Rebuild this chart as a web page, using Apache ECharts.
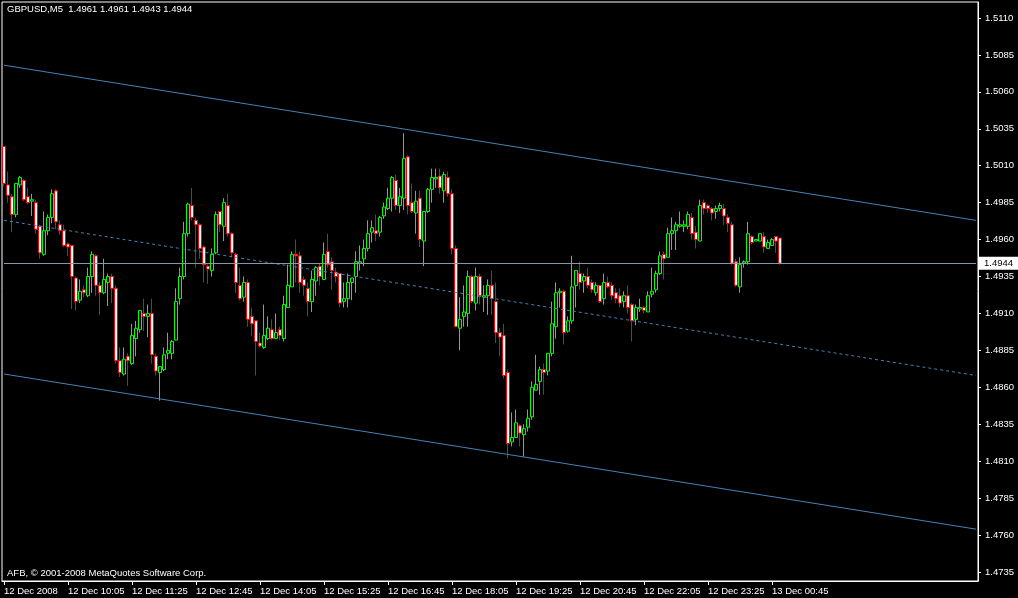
<!DOCTYPE html>
<html>
<head>
<meta charset="utf-8">
<script src="https://cdn.jsdelivr.net/npm/echarts@6/dist/echarts.min.js"></script>
<style>
html,body{margin:0;padding:0;background:#000;}
#chart{width:1018px;height:598px;}
</style>
</head>
<body>
<div id="chart"></div>
<script>
// ---------- data ----------
const titleText = 'GBPUSD,M5  1.4961 1.4961 1.4943 1.4944';
const footerText = 'AFB, \u00A9 2001-2008 MetaQuotes Software Corp.';
const startDay = 12;             // 12 Dec 2008
const startMinutes = 8 * 60 + 45; // first bar 08:45
const barMinutes = 5;
const totalSlots = 244;          // bars + empty right margin
const labelEvery = 16;
const xTickLabels = ['12 Dec 2008', '12 Dec 10:05', '12 Dec 11:25', '12 Dec 12:45', '12 Dec 14:05',
  '12 Dec 15:25', '12 Dec 16:45', '12 Dec 18:05', '12 Dec 19:25', '12 Dec 20:45', '12 Dec 22:05',
  '12 Dec 23:25', '13 Dec 00:45'];
const yTicks = [1.4735, 1.4760, 1.4785, 1.4810, 1.4835, 1.4860, 1.4885, 1.4910, 1.4935, 1.4960,
  1.4985, 1.5010, 1.5035, 1.5060, 1.5085, 1.5110];
const yMin = 1.47289;
const yMax = 1.51208;
const lastPrice = 1.4944;
const channelUpper = [1.5078, 1.4973];
const channelMiddle = [1.4973, 1.4868];
const channelLower = [1.4869, 1.4764];

// [open, close, low, high]
const bars = [
[1.5023,1.4998,1.4996,1.5023],[1.4997,1.4990,1.4985,1.5006],[1.4989,1.4977,1.4965,1.4991],[1.4977,1.4998,1.4975,1.4998],
[1.4997,1.5002,1.4995,1.5003],[1.5000,1.4987,1.4986,1.5001],[1.4989,1.4985,1.4984,1.4995],[1.4986,1.4987,1.4976,1.4991],
[1.4985,1.4967,1.4964,1.4987],[1.4969,1.4951,1.4947,1.4970],[1.4950,1.4966,1.4949,1.4979],[1.4966,1.4975,1.4963,1.4977],
[1.4975,1.4991,1.4971,1.4994],[1.4993,1.4972,1.4967,1.4994],[1.4970,1.4966,1.4963,1.4973],[1.4966,1.4956,1.4955,1.4970],
[1.4957,1.4955,1.4949,1.4958],[1.4956,1.4935,1.4913,1.4956],[1.4934,1.4918,1.4912,1.4935],[1.4919,1.4925,1.4917,1.4933],
[1.4926,1.4924,1.4921,1.4929],[1.4922,1.4935,1.4921,1.4941],[1.4935,1.4950,1.4924,1.4952],[1.4949,1.4929,1.4922,1.4950],
[1.4929,1.4924,1.4909,1.4931],[1.4924,1.4933,1.4923,1.4947],[1.4931,1.4935,1.4915,1.4937],[1.4935,1.4927,1.4917,1.4937],
[1.4927,1.4878,1.4876,1.4929],[1.4878,1.4870,1.4867,1.4887],[1.4869,1.4879,1.4868,1.4887],[1.4881,1.4878,1.4861,1.4883],
[1.4876,1.4895,1.4875,1.4903],[1.4893,1.4900,1.4881,1.4905],[1.4899,1.4912,1.4897,1.4912],[1.4910,1.4908,1.4898,1.4920],
[1.4908,1.4910,1.4894,1.4916],[1.4910,1.4882,1.4876,1.4920],[1.4881,1.4871,1.4868,1.4883],[1.4870,1.4874,1.4851,1.4874],
[1.4872,1.4882,1.4871,1.4887],[1.4883,1.4885,1.4879,1.4897],[1.4883,1.4891,1.4879,1.4892],[1.4892,1.4918,1.4892,1.4927],
[1.4920,1.4935,1.4916,1.4941],[1.4935,1.4964,1.4933,1.4972],[1.4964,1.4984,1.4962,1.4985],[1.4983,1.4975,1.4973,1.4995],
[1.4973,1.4970,1.4941,1.4975],[1.4970,1.4954,1.4947,1.4971],[1.4955,1.4943,1.4931,1.4956],[1.4942,1.4940,1.4930,1.4943],
[1.4939,1.4950,1.4935,1.4954],[1.4951,1.4977,1.4950,1.4979],[1.4979,1.4970,1.4965,1.4979],[1.4969,1.4985,1.4959,1.4988],
[1.4983,1.4964,1.4962,1.4991],[1.4964,1.4951,1.4948,1.4965],[1.4950,1.4931,1.4924,1.4951],[1.4929,1.4920,1.4919,1.4941],
[1.4921,1.4931,1.4918,1.4935],[1.4931,1.4906,1.4901,1.4933],[1.4908,1.4903,1.4895,1.4914],[1.4905,1.4891,1.4868,1.4905],
[1.4890,1.4888,1.4887,1.4897],[1.4887,1.4895,1.4886,1.4916],[1.4893,1.4900,1.4892,1.4908],[1.4899,1.4893,1.4892,1.4906],
[1.4893,1.4897,1.4893,1.4910],[1.4899,1.4895,1.4892,1.4901],[1.4893,1.4916,1.4891,1.4922],[1.4914,1.4929,1.4914,1.4943],
[1.4928,1.4950,1.4928,1.4952],[1.4950,1.4949,1.4931,1.4960],[1.4949,1.4931,1.4924,1.4952],[1.4933,1.4929,1.4922,1.4935],
[1.4927,1.4918,1.4908,1.4931],[1.4918,1.4933,1.4911,1.4939],[1.4932,1.4941,1.4922,1.4942],[1.4942,1.4935,1.4929,1.4944],
[1.4933,1.4950,1.4933,1.4958],[1.4952,1.4943,1.4941,1.4964],[1.4945,1.4939,1.4926,1.4948],[1.4938,1.4935,1.4931,1.4941],
[1.4937,1.4917,1.4914,1.4937],[1.4918,1.4920,1.4914,1.4931],[1.4920,1.4931,1.4914,1.4937],[1.4931,1.4934,1.4919,1.4934],
[1.4935,1.4945,1.4924,1.4952],[1.4944,1.4945,1.4939,1.4956],[1.4947,1.4954,1.4942,1.4960],[1.4954,1.4964,1.4952,1.4973],
[1.4965,1.4968,1.4958,1.4973],[1.4966,1.4964,1.4959,1.4977],[1.4965,1.4975,1.4962,1.4976],[1.4976,1.4982,1.4974,1.4985],
[1.4981,1.4988,1.4980,1.4995],[1.4988,1.5002,1.4979,1.5003],[1.5000,1.4983,1.4980,1.5004],[1.4983,1.4989,1.4978,1.4995],
[1.4988,1.5015,1.4980,1.5032],[1.5016,1.4983,1.4977,1.5017],[1.4985,1.4979,1.4978,1.4998],[1.4978,1.4986,1.4964,1.4993],
[1.4988,1.4960,1.4955,1.4993],[1.4959,1.4979,1.4942,1.4979],[1.4979,1.4994,1.4978,1.4995],[1.4994,1.5002,1.4985,1.5008],
[1.5001,1.5002,1.4995,1.5008],[1.5003,1.4995,1.4991,1.5008],[1.4993,1.5004,1.4985,1.5006],[1.5002,1.4991,1.4989,1.5006],
[1.4991,1.4954,1.4950,1.4994],[1.4954,1.4901,1.4901,1.4956],[1.4900,1.4906,1.4885,1.4921],[1.4908,1.4911,1.4901,1.4929],
[1.4910,1.4935,1.4901,1.4939],[1.4935,1.4918,1.4917,1.4936],[1.4917,1.4935,1.4912,1.4941],[1.4935,1.4922,1.4916,1.4937],
[1.4921,1.4922,1.4911,1.4929],[1.4922,1.4929,1.4909,1.4933],[1.4929,1.4920,1.4909,1.4939],[1.4918,1.4897,1.4890,1.4931],
[1.4897,1.4894,1.4881,1.4900],[1.4895,1.4868,1.4866,1.4903],[1.4870,1.4822,1.4812,1.4872],[1.4823,1.4826,1.4820,1.4843],
[1.4826,1.4836,1.4826,1.4845],[1.4834,1.4829,1.4820,1.4835],[1.4828,1.4832,1.4813,1.4835],[1.4833,1.4839,1.4830,1.4845],
[1.4840,1.4860,1.4838,1.4864],[1.4858,1.4862,1.4858,1.4882],[1.4864,1.4872,1.4855,1.4874],[1.4872,1.4870,1.4855,1.4876],
[1.4871,1.4883,1.4868,1.4883],[1.4883,1.4903,1.4881,1.4918],[1.4901,1.4924,1.4893,1.4931],[1.4924,1.4925,1.4914,1.4927],
[1.4925,1.4897,1.4889,1.4926],[1.4898,1.4905,1.4897,1.4908],[1.4905,1.4928,1.4903,1.4949],[1.4929,1.4939,1.4914,1.4939],
[1.4937,1.4931,1.4926,1.4945],[1.4932,1.4935,1.4924,1.4937],[1.4935,1.4929,1.4927,1.4941],[1.4931,1.4926,1.4924,1.4933],
[1.4924,1.4929,1.4922,1.4931],[1.4929,1.4918,1.4917,1.4929],[1.4920,1.4931,1.4916,1.4937],[1.4931,1.4928,1.4927,1.4935],
[1.4929,1.4922,1.4919,1.4931],[1.4924,1.4920,1.4917,1.4927],[1.4922,1.4917,1.4914,1.4927],[1.4918,1.4922,1.4914,1.4925],
[1.4922,1.4914,1.4910,1.4929],[1.4916,1.4905,1.4891,1.4917],[1.4906,1.4914,1.4902,1.4916],[1.4913,1.4914,1.4911,1.4920],
[1.4914,1.4912,1.4910,1.4915],[1.4911,1.4922,1.4911,1.4925],[1.4923,1.4925,1.4921,1.4941],[1.4926,1.4937,1.4924,1.4939],
[1.4937,1.4949,1.4936,1.4952],[1.4950,1.4947,1.4933,1.4952],[1.4948,1.4964,1.4948,1.4968],[1.4964,1.4966,1.4953,1.4975],
[1.4966,1.4970,1.4953,1.4972],[1.4969,1.4970,1.4968,1.4979],[1.4969,1.4970,1.4965,1.4973],[1.4969,1.4977,1.4967,1.4979],
[1.4975,1.4964,1.4960,1.4978],[1.4965,1.4960,1.4954,1.4969],[1.4959,1.4983,1.4959,1.4987],[1.4985,1.4981,1.4977,1.4987],
[1.4983,1.4981,1.4978,1.4984],[1.4981,1.4978,1.4973,1.4982],[1.4979,1.4981,1.4974,1.4983],[1.4981,1.4983,1.4979,1.4985],
[1.4981,1.4976,1.4970,1.4984],[1.4975,1.4971,1.4965,1.4977],[1.4970,1.4944,1.4943,1.4972],[1.4945,1.4929,1.4928,1.4947],
[1.4928,1.4943,1.4924,1.4948],[1.4944,1.4945,1.4941,1.4946],[1.4945,1.4964,1.4943,1.4972],[1.4962,1.4958,1.4957,1.4963],
[1.4959,1.4960,1.4959,1.4960],[1.4959,1.4964,1.4959,1.4964],[1.4962,1.4955,1.4951,1.4965],[1.4954,1.4958,1.4954,1.4960],
[1.4956,1.4960,1.4956,1.4961],[1.4962,1.4959,1.4951,1.4962],[1.4961,1.4944,1.4943,1.4961]
];

// ---------- categories (5-minute slots) ----------
function pad(n) { return (n < 10 ? '0' : '') + n; }
const categories = [];
for (let i = 0; i < totalSlots; i++) {
  const m = startMinutes + i * barMinutes;
  const day = startDay + Math.floor(m / 1440);
  const mm = m % 1440;
  categories.push(day + ' Dec ' + pad(Math.floor(mm / 60)) + ':' + pad(mm % 60));
}

const FONT = "'Liberation Sans', Arial, sans-serif";
const FS = 9.5;
const showTick = function (idx) { return idx % labelEvery === 0 && idx < bars.length; };
const firstCat = categories[0];
const lastCat = categories[totalSlots - 1];

const chart = echarts.init(document.getElementById('chart'), null, { renderer: 'canvas' });
chart.setOption({
  backgroundColor: '#000000',
  animation: false,
  title: [
    { text: titleText, left: 7, top: 4, padding: 0,
      textStyle: { color: '#ffffff', fontSize: FS, fontWeight: 'normal', fontFamily: FONT } },
    { text: footerText, left: 7, top: 568, padding: 0,
      textStyle: { color: '#ffffff', fontSize: FS, fontWeight: 'normal', fontFamily: FONT } }
  ],
  grid: { left: 2, top: 2, right: 40, bottom: 17, show: true, borderColor: '#ffffff', borderWidth: 1,
    backgroundColor: '#000000', containLabel: false },
  xAxis: {
    type: 'category', data: categories, boundaryGap: true,
    axisLine: { show: true, lineStyle: { color: '#ffffff', width: 1 } },
    axisTick: { show: true, length: 4, alignWithLabel: true, interval: showTick,
      lineStyle: { color: '#ffffff' } },
    axisLabel: { show: true, interval: showTick, align: 'left', margin: 5, color: '#ffffff',
      fontSize: FS, fontFamily: FONT,
      formatter: function (v, idx) { return xTickLabels[Math.round(idx / labelEvery)] || ''; } },
    splitLine: { show: false }
  },
  yAxis: {
    type: 'value', position: 'right', min: yMin, max: yMax,
    axisLine: { show: true, lineStyle: { color: '#ffffff', width: 1 } },
    axisTick: { show: true, length: 3, customValues: yTicks, lineStyle: { color: '#ffffff' } },
    axisLabel: { show: true, customValues: yTicks, margin: 7, color: '#ffffff', fontSize: FS, fontFamily: FONT,
      formatter: function (v) { return v.toFixed(4); } },
    splitLine: { show: false }
  },
  series: [{
    type: 'candlestick',
    data: bars,
    barWidth: 3,
    itemStyle: { color: '#000000', color0: '#ffffff', borderColor: '#00ff00', borderColor0: '#ff0000', borderWidth: 1 },
    markLine: {
      silent: true, animation: false, symbol: ['none', 'none'],
      label: { show: false },
      data: [
        [{ coord: [firstCat, channelUpper[0]], lineStyle: { color: '#4682b4', type: 'solid', width: 1 } },
         { coord: [lastCat, channelUpper[1]] }],
        [{ coord: [firstCat, channelMiddle[0]], lineStyle: { color: '#4682b4', type: [3, 3], width: 1 } },
         { coord: [lastCat, channelMiddle[1]] }],
        [{ coord: [firstCat, channelLower[0]], lineStyle: { color: '#4682b4', type: 'solid', width: 1 } },
         { coord: [lastCat, channelLower[1]] }],
        [{ coord: [firstCat, lastPrice], lineStyle: { color: '#8797a8', type: 'solid', width: 1 },
           label: { show: true, position: 'end', distance: 2, formatter: lastPrice.toFixed(4),
             backgroundColor: '#ffffff', color: '#000000', fontSize: FS, fontFamily: FONT,
             padding: [2, 10, 1, 6] } },
         { coord: [lastCat, lastPrice] }]
      ]
    }
  }]
});
</script>
</body>
</html>
